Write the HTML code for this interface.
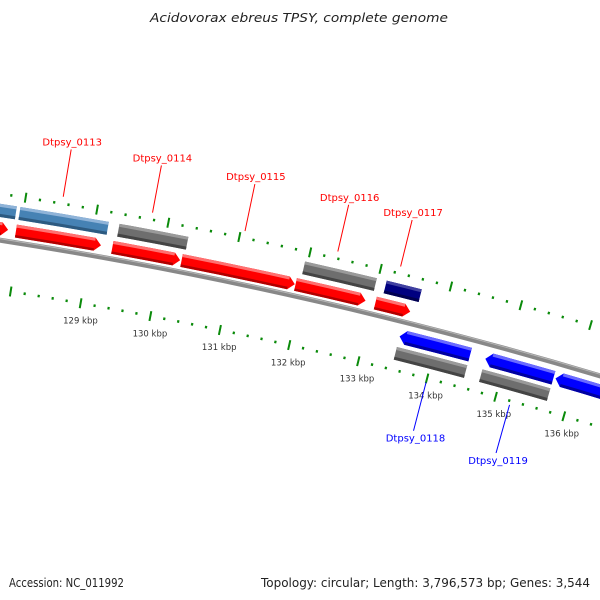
<!DOCTYPE html>
<html><head><meta charset="utf-8"><style>
html,body{margin:0;padding:0;background:#fff;width:600px;height:600px;overflow:hidden}
svg{display:block}
</style></head><body>
<svg id="map" width="600" height="600" viewBox="0 0 600 600" xmlns="http://www.w3.org/2000/svg">
<text x="299" y="22" text-anchor="middle" font-family="DejaVu Sans, Liberation Sans, sans-serif" font-style="italic" font-size="12.5" fill="#222" textLength="298" lengthAdjust="spacingAndGlyphs">Acidovorax ebreus TPSY, complete genome</text>
<text x="9" y="587" font-family="DejaVu Sans, Liberation Sans, sans-serif" font-size="12" fill="#222" textLength="115" lengthAdjust="spacingAndGlyphs">Accession: NC_011992</text>
<text x="590" y="587" text-anchor="end" font-family="DejaVu Sans, Liberation Sans, sans-serif" font-size="12" fill="#222" textLength="329" lengthAdjust="spacingAndGlyphs">Topology: circular; Length: 3,796,573 bp; Genes: 3,544</text>
<g id="plot"></g>
</svg>
<script>
// ---- data (kbp) ----
const fwdStarts = [126.9, 127.94, 129.30, 130.28, 131.90, 133.04];
const fwdEnds   = [127.83, 129.14, 130.26, 131.89, 132.90, 133.54];
const outerCatStarts = [126.9, 127.95, 129.34, 131.96, 133.12];
const outerCatEnds   = [127.90, 129.19, 130.31, 132.98, 133.62];
const outerCatColors = ['steel','steel','gray','gray','navy'];
const revStarts = [133.48, 134.72, 135.74];
const revEnds   = [134.50, 135.71, 136.9];
const innerCatStarts = [133.48, 134.72];
const innerCatEnds   = [134.50, 135.71];
const tickKbp = [126,127,128,129,130,131,132,133,134,135,136,137];
const tickLabels = ['','','','129 kbp','130 kbp','131 kbp','132 kbp','133 kbp','134 kbp','135 kbp','136 kbp',''];
const fwdLabelNames = ['Dtpsy_0113','Dtpsy_0114','Dtpsy_0115','Dtpsy_0116','Dtpsy_0117'];
const fwdLabelKbp = [128.51, 129.76, 131.06, 132.37, 133.26];
const revLabelNames = ['Dtpsy_0118','Dtpsy_0119'];
const revLabelKbp = [134.0, 135.22];

// ---- geometry ----
const CX=-690, CY=4687;
function th(k){return (9.97+(k-129)*0.913)*Math.PI/180;}
function pt(k,r){const t=th(k);return [CX+r*Math.sin(t), CY-r*Math.cos(t)];}
const NS='http://www.w3.org/2000/svg';
const plot=document.getElementById('plot');
function mk(tag,attrs){const e=document.createElementNS(NS,tag);for(const a in attrs)e.setAttribute(a,attrs[a]);return e;}
function f(p){return p[0].toFixed(2)+' '+p[1].toFixed(2);}
function band(k1,k2,r1,r2){
  const a=pt(k1,r2),b=pt(k2,r2),c=pt(k2,r1),d=pt(k1,r1);
  return 'M'+f(a)+' A'+r2+' '+r2+' 0 0 1 '+f(b)+' L'+f(c)+' A'+r1+' '+r1+' 0 0 0 '+f(d)+'Z';
}
function arrow(k1,k2,r1,r2,dir){
  const h=0.09, rm=(r1+r2)/2;
  if(dir>0){
    const e=k2-h;
    return 'M'+f(pt(k1,r2))+' A'+r2+' '+r2+' 0 0 1 '+f(pt(e,r2))+' L'+f(pt(k2,rm))+' L'+f(pt(e,r1))+' A'+r1+' '+r1+' 0 0 0 '+f(pt(k1,r1))+'Z';
  } else {
    const s=k1+h;
    return 'M'+f(pt(s,r2))+' A'+r2+' '+r2+' 0 0 1 '+f(pt(k2,r2))+' L'+f(pt(k2,r1))+' A'+r1+' '+r1+' 0 0 0 '+f(pt(s,r1))+' L'+f(pt(k1,rm))+'Z';
  }
}
const pal={red:['#ff7070','#ff0000','#b00000'],blue:['#6a6aff','#0000ff','#0000a0'],
 gray:['#9a9a9a','#6e6e6e','#444'],steel:['#8fb3d8','#4682b4','#2d5a80'],navy:['#4040a0','#000080','#000050']};
function shaded(dPath, dTop, dBot, col, g){
  g.appendChild(mk('path',{d:dPath,fill:col[1]}));
  g.appendChild(mk('path',{d:dTop,fill:col[0]}));
  g.appendChild(mk('path',{d:dBot,fill:col[2]}));
}

// backbone
const bb=mk('path',{d:'M'+f(pt(126.5,4500))+' A4500 4500 0 0 1 '+f(pt(137.5,4500)),stroke:'#888','stroke-width':5,fill:'none'});


plot.appendChild(bb);
plot.appendChild(mk('path',{d:'M'+f(pt(126.5,4501.5))+' A4501.5 4501.5 0 0 1 '+f(pt(137.5,4501.5)),stroke:'#b5b5b5','stroke-width':1,fill:'none'}));

// forward features (red arrows)
for(let i=0;i<fwdStarts.length;i++){
  const g=mk('g',{});
  
  
  const r1=4505,r2=4518;
  shaded(arrow(fwdStarts[i],fwdEnds[i],r1,r2,1),band(fwdStarts[i],fwdEnds[i]-0.09,4515,r2),band(fwdStarts[i],fwdEnds[i]-0.09,r1,4507.5),pal.red,g);
  plot.appendChild(g);
}
// outer category boxes
for(let i=0;i<outerCatStarts.length;i++){
  const g=mk('g',{});
  
  
  const r1=4523,r2=4536;
  shaded(band(outerCatStarts[i],outerCatEnds[i],r1,r2),band(outerCatStarts[i],outerCatEnds[i],4533,r2),band(outerCatStarts[i],outerCatEnds[i],r1,4526),pal[outerCatColors[i]],g);
  plot.appendChild(g);
}
// reverse features (blue arrows)
for(let i=0;i<revStarts.length;i++){
  const g=mk('g',{});
  
  
  const r1=4478,r2=4492;
  shaded(arrow(revStarts[i],revEnds[i],r1,r2,-1),band(revStarts[i]+0.09,revEnds[i],4489,r2),band(revStarts[i]+0.09,revEnds[i],r1,4481),pal.blue,g);
  plot.appendChild(g);
}
// inner category boxes
for(let i=0;i<innerCatStarts.length;i++){
  const g=mk('g',{});
  
  
  const r1=4461,r2=4474;
  shaded(band(innerCatStarts[i],innerCatEnds[i],r1,r2),band(innerCatStarts[i],innerCatEnds[i],4471,r2),band(innerCatStarts[i],innerCatEnds[i],r1,4464),pal.gray,g);
  plot.appendChild(g);
}
// ticks
for(let i=0;i<tickKbp.length;i++){
  for(let m=0;m<5;m++){
    const k=tickKbp[i]+m*0.2;
    [[4546,m?1.3:5],[4451,m?1.3:5]].forEach(function(rr){
      const a=pt(k,rr[0]-rr[1]),b=pt(k,rr[0]+rr[1]);
      const ln=mk('line',{x1:a[0],y1:a[1],x2:b[0],y2:b[1],stroke:'#0a8a0a','stroke-width':m?2.2:2});
      
      
      plot.appendChild(ln);
    });
  }
  if(tickLabels[i]){
    const p=pt(tickKbp[i]+0.04,4434);
    const t=mk('text',{x:p[0],y:p[1]+3,'text-anchor':'middle','font-family':'DejaVu Sans, Liberation Sans, sans-serif','font-size':8.5,fill:'#333'});
    t.textContent=tickLabels[i];
    
    
    plot.appendChild(t);
  }
}
// gene labels
function geneLabel(name,k,rStart,rEnd,col,above){
  const a=pt(k,rStart),b=pt(k,rEnd);
  const ln=mk('line',{x1:a[0],y1:a[1],x2:b[0],y2:b[1],stroke:col,'stroke-width':1});
  
  
  plot.appendChild(ln);
  const t=mk('text',{x:b[0]+(above?1:2),y:above?b[1]-4:b[1]+11,'text-anchor':'middle','font-family':'DejaVu Sans, Liberation Sans, sans-serif','font-size':10,fill:col});
  t.textContent=name;
  
  
  plot.appendChild(t);
}
for(let i=0;i<fwdLabelNames.length;i++) geneLabel(fwdLabelNames[i],fwdLabelKbp[i],4553,4601,'#ff0000',true);
for(let i=0;i<revLabelNames.length;i++) geneLabel(revLabelNames[i],revLabelKbp[i],4447,4397,'#0000ff',false);
</script>
</body></html>
